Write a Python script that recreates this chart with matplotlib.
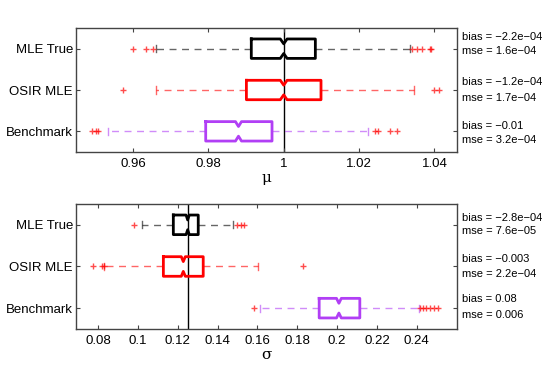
import matplotlib
matplotlib.use("Agg")
import matplotlib.pyplot as plt

plt.rcParams['font.family'] = ['Liberation Sans', 'DejaVu Sans']

methods = ["MLE True", "OSIR MLE", "Benchmark"]
colors = ["#000000", "#ff0000", "#b13ff5"]

# mu estimates
mu_q1 = [0.9914, 0.9901, 0.9793]
mu_med = [1.0000, 1.0000, 0.9880]
mu_q3 = [1.0084, 1.0099, 0.9969]
mu_whislo = [0.9660, 0.9660, 0.9535]
mu_whishi = [1.0334, 1.0346, 1.0223]
mu_ci = [0.0009, 0.0009, 0.0008]
mu_fliers = [
    [0.9600, 0.9634, 0.9654, 1.0340, 1.0353, 1.0367, 1.0387, 1.0391],
    [0.9574, 1.0399, 1.0413],
    [0.9492, 0.9501, 0.9508, 1.0243, 1.0249, 1.0283, 1.0300],
]
mu_true = 1.0
mu_bias = ["bias = \u22122.2e\u221204", "bias = \u22121.2e\u221204", "bias = \u22120.01"]
mu_mse = ["mse = 1.6e\u221204", "mse = 1.7e\u221204", "mse = 3.2e\u221204"]
mu_ticks = [0.96, 0.98, 1.0, 1.02, 1.04]
mu_ticklabels = ["0.96", "0.98", "1", "1.02", "1.04"]

# sigma estimates
sg_q1 = [0.1178, 0.1128, 0.1910]
sg_med = [0.1250, 0.1228, 0.2009]
sg_q3 = [0.1303, 0.1328, 0.2114]
sg_whislo = [0.1019, 0.0830, 0.1612]
sg_whishi = [0.1479, 0.1601, 0.2410]
sg_ci = [0.0008, 0.0010, 0.0012]
sg_fliers = [
    [0.0982, 0.1496, 0.1516, 0.1534],
    [0.0773, 0.0819, 0.0828, 0.1827],
    [0.1582, 0.2414, 0.2431, 0.2448, 0.2468, 0.2487, 0.2506],
]
sg_true = 0.125
sg_bias = ["bias = \u22122.8e\u221204", "bias = \u22120.003", "bias = 0.08"]
sg_mse = ["mse = 7.6e\u221205", "mse = 2.2e\u221204", "mse = 0.006"]
sg_ticks = [0.08, 0.10, 0.12, 0.14, 0.16, 0.18, 0.20, 0.22, 0.24]
sg_ticklabels = ["0.08", "0.1", "0.12", "0.14", "0.16", "0.18", "0.2", "0.22", "0.24"]

fig = plt.figure(figsize=(5.45, 3.73), dpi=100)
ax1 = fig.add_axes([0.1389, 0.5925, 0.699, 0.3324])
ax2 = fig.add_axes([0.1389, 0.118, 0.699, 0.3351])

frame_col = "#444444"

def draw(ax, q1, med, q3, wlo, whi, ci, fliers, true, bias, mse, ticks, tlabels,
         xlim, xlabel, bias_y, mse_y):
    ax.axvline(true, color="black", lw=1.0, zorder=1)
    for i in range(3):
        st = dict(med=med[i], q1=q1[i], q3=q3[i], whislo=wlo[i], whishi=whi[i],
                  cilo=med[i] - ci[i], cihi=med[i] + ci[i], fliers=fliers[i])
        c = colors[i]
        ax.bxp([st], positions=[i + 1], vert=False, widths=0.47, shownotches=True,
               patch_artist=False, capwidths=0.17,
               boxprops=dict(color=c, lw=2.0),
               medianprops=dict(color=c, lw=0),
               whiskerprops=dict(color=c, lw=1.0, alpha=0.6, linestyle=(0, (5, 4))),
               capprops=dict(color=c, lw=1.0, alpha=0.6),
               flierprops=dict(marker="+", markeredgecolor="red", markersize=5,
                               alpha=0.7, linestyle="none", markeredgewidth=1.0))
    ax.set_ylim(3.5, 0.5)
    ax.set_xlim(*xlim)
    ax.set_yticks([1, 2, 3])
    ax.set_yticklabels(methods, fontsize=9.5)
    ax.set_xticks(ticks)
    ax.set_xticklabels(tlabels, fontsize=9.5)
    ax.tick_params(direction="in", top=True, right=True, length=3, color=frame_col,
                   pad=4)
    ax.tick_params(axis="y", pad=2)
    for s in ax.spines.values():
        s.set_color(frame_col)
        s.set_linewidth(1.0)
    ax.set_xlabel(xlabel, fontsize=11, family="DejaVu Serif", labelpad=1)
    tr = ax.get_yaxis_transform()
    for i in range(3):
        ax.text(1.014, bias_y[i], bias[i], transform=tr, fontsize=8, va="center",
                ha="left")
        ax.text(1.014, mse_y[i], mse[i], transform=tr, fontsize=8, va="center",
                ha="left")

draw(ax1, mu_q1, mu_med, mu_q3, mu_whislo, mu_whishi, mu_ci, mu_fliers, mu_true,
     mu_bias, mu_mse, mu_ticks, mu_ticklabels, (0.9448, 1.0459), "\u03bc",
     [0.71, 1.807, 2.873], [1.057, 2.202, 3.212])
draw(ax2, sg_q1, sg_med, sg_q3, sg_whislo, sg_whishi, sg_ci, sg_fliers, sg_true,
     sg_bias, sg_mse, sg_ticks, sg_ticklabels, (0.0688, 0.26), "\u03c3",
     [0.843, 1.82, 2.78], [1.14, 2.187, 3.164])

fig.savefig("out.png", dpi=100)
